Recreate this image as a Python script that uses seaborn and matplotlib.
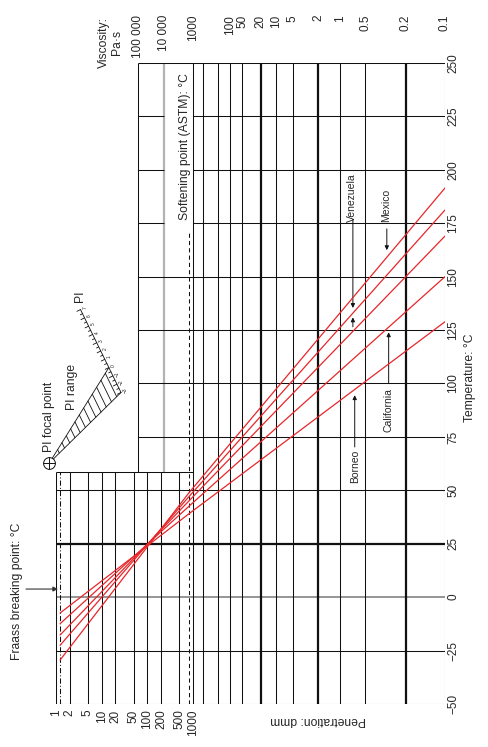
import numpy as np
import pandas as pd
import matplotlib
matplotlib.use("Agg")
import matplotlib.pyplot as plt
import seaborn as sns

sns.set_theme(style="white")
plt.rcParams['font.family'] = ['Liberation Sans', 'DejaVu Sans']

# ---- chart data ----
pen_ticks = [1, 2, 5, 10, 20, 50, 100, 200, 500, 1000]
visc_labels = [100000, 10000, 1000, 100, 50, 20, 10, 5, 2, 1, 0.5, 0.2, 0.1]
visc_text = ["100 000", "10 000", "1000", "100", "50", "20", "10", "5", "2", "1", "0.5", "0.2", "0.1"]
visc_grid = [1000, 500, 200, 100, 50, 20, 10, 5, 2, 1, 0.5, 0.2]
visc_thick = [20, 2, 0.2]
temp_ticks = list(range(-50, 251, 25))

# bitumen lines: T at Fraass point (pen 1.25), at softening point (pen 800), at 0.1 Pa.s
fraass_T = [-7.4, -12.4, -17.7, -22.5, -29.4]
sp_T = [39.0, 42.5, 45.0, 47.0, 48.8]
visc01_T = [128.9, 150.0, 169.0, 181.2, 191.5]

fraass_pen = 1.25
sp_pen = 800
pen_top_T = 58.5
sp_top_T = 172

pi_vals = np.arange(7, -3.01, -0.5)
pi_range = [0, -3]


def pen_u(p):
    return np.log10(p)


def visc_u(v):
    return 9.0 - 8.427 * np.log10(np.log10(v) + 2.15)


u_end = visc_u(0.1)
u_1e5 = visc_u(1e5)
u_1e4 = visc_u(1e4)
u_1000 = pen_u(1000)

fig = plt.figure(figsize=(4.89, 7.47), dpi=100)
ax = fig.add_axes([55.7 / 489, 1 - 704 / 747, (445 - 55.7) / 489, (704 - 63) / 747])

blk = dict(colors='#111111', linewidths=0.75, zorder=2)
thick = dict(colors='#111111', linewidths=1.6, zorder=2)

# penetration grid
ax.vlines([pen_u(p) for p in pen_ticks[1:-1]], -50, pen_top_T, **blk)
# viscosity grid
for v in visc_grid:
    ax.vlines(visc_u(v), -50, 250, **(thick if v in visc_thick else blk))
ax.vlines(u_1e4, pen_top_T, 250, colors='#b3b3b3', linewidths=1.6, zorder=1.5)

# frame
ax.vlines(u_end, -50, 250, **blk)
ax.vlines(0, -50, pen_top_T, **blk)
ax.vlines(u_1e5, pen_top_T, 250, **blk)
ax.hlines(pen_top_T, 0, u_1000, **blk)

# temperature grid
for t in temp_ticks:
    if t == 250:
        ax.hlines(t, u_1e5, u_end, **blk)
    elif t < pen_top_T:
        if t == 0:
            ax.hlines(t, 0, u_end, colors='#8c8c8c', linewidths=1.3, zorder=1.5)
        else:
            ax.hlines(t, 0, u_end, **(thick if t == 25 else blk))
    elif t > sp_top_T:
        ax.hlines(t, u_1e5, u_1e4, **blk)
        ax.hlines(t, u_1000, u_end, **blk)
    else:
        ax.hlines(t, u_1e5, u_end, **blk)

# Fraass and softening point reference lines
ax.vlines(pen_u(fraass_pen), -50, pen_top_T, colors='#111111', linewidths=0.75,
          linestyles=(0, (5, 2, 1, 2)), zorder=2)
ax.vlines(pen_u(sp_pen), -50, sp_top_T, colors='#111111', linewidths=0.75,
          linestyles=(0, (4, 3)), zorder=2)

# bitumen lines
rows = []
for i in range(len(fraass_T)):
    xs = [pen_u(fraass_pen), pen_u(sp_pen), u_end]
    ys = [fraass_T[i], sp_T[i], visc01_T[i]]
    for x, y in zip(xs, ys):
        rows.append({'line': i, 'u': x, 'T': y})
df = pd.DataFrame(rows)
sns.lineplot(data=df, x='u', y='T', units='line', estimator=None, sort=False,
             color='#e8262a', linewidth=0.9, legend=False, ax=ax, zorder=4)


def line_T(i, u):
    return np.interp(u, [pen_u(fraass_pen), pen_u(sp_pen), u_end],
                     [fraass_T[i], sp_T[i], visc01_T[i]])


arr = dict(arrowstyle='-|>', color='#111111', lw=0.7, mutation_scale=6,
           shrinkA=0, shrinkB=0)

# labels pointing to lines
ax.text(6.52, 68.9, "Borneo", rotation=90, ha='center', va='top', fontsize=7.5)
ax.annotate('', xy=(6.52, line_T(0, 6.52) - 2.7), xytext=(6.52, 70.3), arrowprops=arr)
ax.text(7.26, 97.9, "California", rotation=90, ha='center', va='top', fontsize=7.5)
ax.annotate('', xy=(7.26, line_T(1, 7.26) - 2.4), xytext=(7.26, 100.2), arrowprops=arr)
ax.text(6.47, 175.6, "Venezuela", rotation=90, ha='center', va='bottom', fontsize=7.5)
ax.annotate('', xy=(6.48, line_T(3, 6.48) + 2.4), xytext=(6.48, 176.7), arrowprops=arr)
ax.annotate('', xy=(6.48, line_T(3, 6.48) - 2.0), xytext=(6.48, 126.5), arrowprops=arr)
ax.text(7.21, 175.6, "Mexico", rotation=90, ha='center', va='bottom', fontsize=7.5)
ax.annotate('', xy=(7.22, line_T(4, 7.22) + 3.3), xytext=(7.22, 172.4), arrowprops=arr)

# softening point label
ax.annotate("Softening point (ASTM): °C", xy=(pen_u(sp_pen), 211), xytext=(-3, 0),
            textcoords='offset points', rotation=90, ha='center', va='center', fontsize=8.7)

# Fraass arrow
ax.annotate('', xy=(0.05, 3.8), xytext=(-0.647, 3.8), annotation_clip=False,
            arrowprops=dict(arrowstyle='-|>', color='#333333', lw=0.8, mutation_scale=7,
                            shrinkA=0, shrinkB=0))

# axes / ticks
ax.set_xlim(0, u_end)
ax.set_ylim(-50, 250)
ax.set_xlabel('')
ax.set_ylabel('')
for s in ax.spines.values():
    s.set_visible(False)
ax.yaxis.tick_right()
ax.set_yticks(temp_ticks)
ax.set_yticklabels([str(t).replace('-', '\u2212') for t in temp_ticks],
                   rotation=90, va='center', fontsize=8.5)
ax.set_xticks([pen_u(p) for p in pen_ticks])
ax.set_xticklabels([str(p) for p in pen_ticks], rotation=90, fontsize=8.5)
ax.tick_params(axis='y', length=0, pad=1.5)
ax.tick_params(axis='x', length=0, pad=4)

for v, s in zip(visc_labels, visc_text):
    ax.text(visc_u(v), 1 + 48 / 641, s, transform=ax.get_xaxis_transform(),
            rotation=90, ha='center', va='top', fontsize=8.5)

# PI nomogram
F = np.array([-0.14, 62.8])
S_top = np.array([0.541, 134.6])
S_bot = np.array([1.424, 95.8])


def pi_pos(pi):
    return S_top + (7 - pi) / 10 * (S_bot - S_top)


lk = dict(color='#111111', lw=0.6, clip_on=False, zorder=5)
ax.plot([S_top[0], S_bot[0]], [S_top[1], S_bot[1]], **lk)
P0 = pi_pos(pi_range[0])
P3 = pi_pos(pi_range[1])
ax.plot([F[0], P0[0]], [F[1], P0[1]], **lk)
ax.plot([F[0], P3[0]], [F[1], P3[1]], **lk)
for t in np.linspace(0.14, 0.94, 12):
    a = F + t * (P0 - F)
    b = F + t * (P3 - F)
    ax.plot([a[0], b[0]], [a[1], b[1]], **lk)

to_disp = ax.transData.transform
to_data = ax.transData.inverted().transform
d = to_disp(S_bot) - to_disp(S_top)
d = d / np.hypot(*d)
n = np.array([-d[1], d[0]])
for pi in pi_vals:
    p = to_disp(pi_pos(pi))
    ln = 4 if pi == int(pi) else 2.5
    seg = to_data(np.array([p, p - n * ln]))
    ax.plot(seg[:, 0], seg[:, 1], **lk)
    if pi == int(pi):
        q = to_data(p + n * 5)
        ax.text(q[0], q[1], str(int(pi)).replace('-', '\u2212'), fontsize=3.5,
                rotation=90, ha='center', va='center')

ax.plot(F[0], F[1], marker='o', ms=8.5, mfc='white', mec='#111111', mew=0.7,
        clip_on=False, zorder=6)
ax.plot(F[0], F[1], marker='+', ms=8.5, mec='#111111', mew=0.7, clip_on=False, zorder=7)

ax.text(0.53, 141, "PI", rotation=90, ha='center', va='center', fontsize=8.7)
ax.text(0.349, 98.5, "PI range", rotation=90, ha='center', va='center', fontsize=8.7)
ax.text(-0.14, 84.3, "PI focal point", rotation=90, ha='center', va='center', fontsize=8.7)

# outer labels
fig.text(17 / 489, 1 - 591 / 747, "Fraass breaking point: °C", rotation=90,
         ha='center', va='center', fontsize=8.7)
fig.text(110.5 / 489, 1 - 42.5 / 747, "Viscosity:\nPa·s", rotation=90, ha='center',
         va='center', multialignment='center', fontsize=8.7, linespacing=1.1)
fig.text(318 / 489, 1 - 720 / 747, "Penetration: dmm", rotation=180,
         ha='center', va='center', fontsize=8.7)
fig.text(470 / 489, 1 - 378 / 747, "Temperature: °C", rotation=90,
         ha='center', va='center', fontsize=8.7)

fig.savefig("out.png", dpi=100)
